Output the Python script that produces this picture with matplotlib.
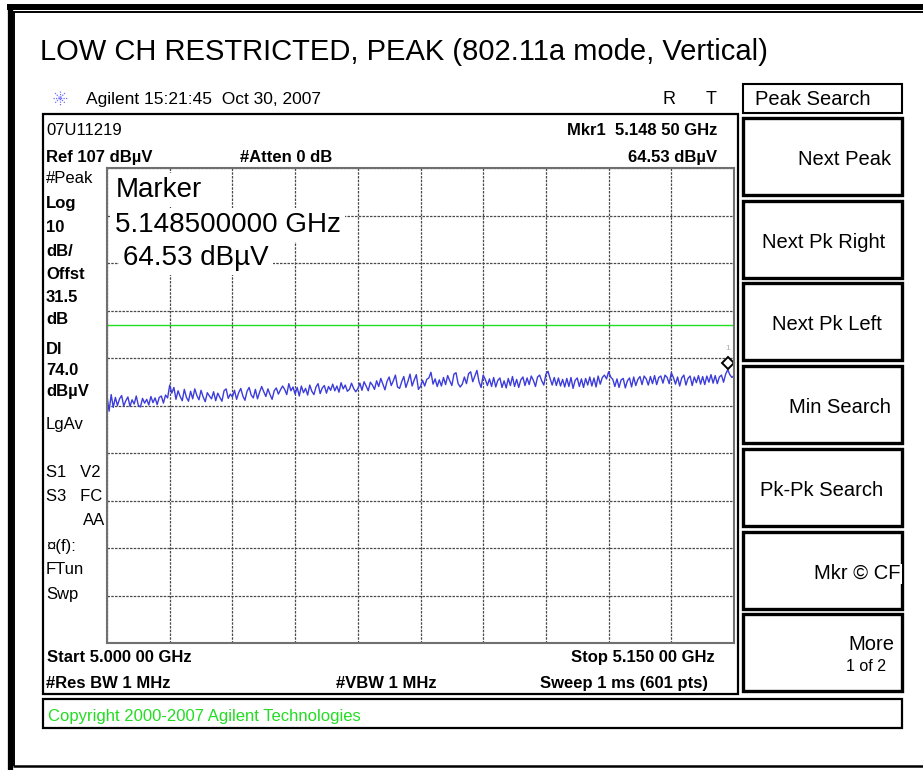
import numpy as np
import matplotlib
matplotlib.use('Agg')
import matplotlib.pyplot as plt
from matplotlib.patches import Rectangle
from matplotlib import transforms

plt.rcParams['font.family'] = ['Liberation Sans', 'DejaVu Sans']

# analyzer settings
f_start = 5000.0   # MHz
f_stop = 5150.0    # MHz
ref_level = 107.0  # dBuV
db_per_div = 10.0
display_line = 74.0
mkr_freq = 5148.5
mkr_level = 64.53

# trace, 0.5 MHz steps (dBuV)
level_dbuv = [
    59.0, 55.8, 59.3, 56.6, 58.7, 57.0, 58.4, 59.1, 56.9, 58.0,
    58.8, 56.8, 58.2, 57.3, 59.0, 57.0, 56.7, 58.5, 57.5, 58.3,
    57.1, 58.9, 57.6, 58.6, 57.2, 58.7, 59.0, 57.5, 59.2, 58.6,
    61.3, 59.6, 60.8, 58.3, 60.1, 58.9, 58.0, 60.4, 58.7, 57.9,
    60.0, 58.4, 60.5, 59.1, 58.2, 60.2, 58.8, 57.8, 59.7, 59.0,
    58.4, 59.9, 58.0, 59.6, 58.7, 57.9, 60.1, 60.5, 58.5, 59.4,
    58.8, 60.2, 58.3, 59.7, 60.6, 59.0, 58.1, 60.0, 60.8, 59.2,
    58.6, 60.4, 58.4, 59.8, 61.0, 59.9, 58.9, 60.5, 59.3, 58.3,
    60.1, 60.7, 59.4, 60.3, 61.1, 60.4, 59.3, 61.6, 60.1, 60.9,
    59.4, 60.8, 59.0, 61.1, 59.7, 60.6, 59.2, 61.3, 60.0, 59.3,
    60.9, 61.6, 59.5, 60.7, 61.2, 59.6, 61.0, 60.2, 61.5, 60.1,
    61.1, 59.8, 61.8, 60.5, 61.3, 60.0, 60.4, 61.7, 60.6, 59.9,
    60.5, 61.7, 60.2, 62.0, 61.1, 60.1, 61.9, 61.3, 60.4, 62.2,
    61.0, 62.7, 61.5, 60.3, 62.1, 63.0, 61.2, 62.2, 63.4, 60.9,
    60.6, 62.0, 63.1, 60.8, 62.1, 63.6, 61.1, 62.4, 63.5, 60.4,
    61.0, 62.3, 61.1, 62.5, 62.8, 64.0, 61.5, 62.6, 61.0, 62.4,
    61.1, 62.9, 61.4, 63.3, 62.2, 61.2, 63.6, 63.9, 61.6, 60.9,
    61.5, 63.0, 61.6, 63.7, 64.1, 62.0, 63.2, 64.4, 62.0, 60.8,
    63.4, 62.5, 61.2, 62.6, 61.0, 62.9, 60.9, 62.3, 62.8, 60.8,
    62.2, 60.7, 62.7, 61.2, 63.1, 61.0, 62.5, 60.8, 62.4, 63.0,
    61.2, 62.8, 61.4, 63.2, 62.3, 61.0, 63.0, 63.4, 62.2, 61.3,
    63.6, 64.2, 62.7, 61.3, 62.9, 61.2, 62.8, 61.1, 62.5, 60.9,
    62.7, 61.0, 62.9, 60.6, 62.3, 62.8, 61.0, 62.6, 60.8, 62.7,
    61.3, 63.0, 61.1, 62.8, 60.9, 63.2, 61.5, 62.9, 63.4, 62.6,
    64.1, 63.0, 62.5, 61.0, 62.6, 60.8, 62.4, 62.7, 60.7, 62.2,
    62.8, 60.9, 63.0, 61.2, 62.5, 63.1, 61.4, 63.2, 62.6, 61.3,
    63.1, 61.6, 63.3, 61.4, 62.9, 63.2, 61.7, 63.4, 62.9, 61.6,
    63.9, 62.9, 61.5, 63.0, 61.1, 62.8, 63.4, 61.3, 62.7, 63.2,
    61.2, 63.0, 61.8, 63.3, 61.5, 63.1, 61.4, 63.2, 61.9, 63.5,
    61.7, 63.3, 61.6, 63.0, 63.4, 61.9, 63.6, 64.53, 63.5, 62.9,
    63.3,
]
freq_mhz = np.linspace(f_start, f_stop, len(level_dbuv))

left_labels = [
    ('#Peak', 177, 'normal'), ('Log', 202, 'bold'), ('10', 226, 'bold'),
    ('dB/', 250, 'bold'), ('Offst', 273, 'bold'), ('31.5', 296, 'bold'),
    ('dB', 318, 'bold'), ('Dl', 348, 'bold'), ('74.0', 369, 'bold'),
    ('dBµV', 390, 'bold'), ('LgAv', 423, 'normal'), ('S1   V2', 471, 'normal'),
    ('S3   FC', 495, 'normal'), ('¤(f):', 545, 'normal'),
    ('FTun', 568, 'normal'), ('Swp', 593, 'normal'),
]
softkeys = ['Next Peak', 'Next Pk Right', 'Next Pk Left', 'Min Search',
            'Pk-Pk Search', 'Mkr © CF', 'More']
key_tops = [118, 201, 283, 366, 449, 532, 614]
key_text_x = [891, 885, 882, 891, 883, 901, 894]

W, H = 923, 770
fig = plt.figure(figsize=(W / 100, H / 100), dpi=100)
bg = fig.add_axes([0, 0, 1, 1])
bg.set_xlim(0, W)
bg.set_ylim(H, 0)
bg.axis('off')


def put(x, y, s, size, ax=None, **kw):
    # y is the middle of the capitals in pixels
    target = ax if ax is not None else bg
    kw.setdefault('va', 'baseline')
    return target.text(x, y + 0.716 * size * 100 / 72 / 2, s, fontsize=size,
                       transform=bg.transData, **kw)


# outer frame
bg.plot([9.5, 9.5], [4, 770], color='black', lw=3.8, solid_capstyle='butt')
bg.plot([7, W], [7, 7], color='black', lw=4.3, solid_capstyle='butt')
bg.plot([13.8, 13.8], [12.3, 766], color='black', lw=1.4, solid_capstyle='butt')
bg.plot([13, W], [12.3, 12.3], color='black', lw=1.4, solid_capstyle='butt')
bg.plot([13, W], [766, 766], color='black', lw=1.8, solid_capstyle='butt')

put(40, 50, 'LOW CH RESTRICTED, PEAK (802.11a mode, Vertical)', 21)

# agilent logo
for a in np.linspace(0, np.pi, 4, endpoint=False):
    dx, dy = 7 * np.cos(a), 7 * np.sin(a)
    bg.plot([60 - dx, 60 + dx], [98 - dy, 98 + dy], color='#7070ff', lw=0.9,
            linestyle=(0, (1, 1)))
put(86, 98, 'Agilent 15:21:45  Oct 30, 2007', 12.5)
put(663, 98, 'R', 13)
put(706, 98, 'T', 13)

# screen and copyright boxes
bg.add_patch(Rectangle((43, 114), 695, 580, fill=False, ec='black', lw=1.6))
bg.add_patch(Rectangle((43, 699), 859, 29, fill=False, ec='black', lw=1.6))
put(48, 715, 'Copyright 2000-2007 Agilent Technologies', 12, color='#22dd22')

# header / footer readouts
put(46, 129, '07U11219', 12)
put(46, 156, 'Ref 107 dBµV', 12, fontweight='bold')
put(240, 156, '#Atten 0 dB', 12, fontweight='bold')
put(717, 129, 'Mkr1  5.148 50 GHz', 12, fontweight='bold', ha='right')
put(717, 156, '64.53 dBµV', 12, fontweight='bold', ha='right')
for txt, y, wt in left_labels:
    put(46, y, txt, 12, fontweight=wt)
put(105, 519, 'AA', 12, ha='right')
put(47, 656, 'Start 5.000 00 GHz', 12, fontweight='bold')
put(715, 656, 'Stop 5.150 00 GHz', 12, fontweight='bold', ha='right')
put(46, 682, '#Res BW 1 MHz', 12, fontweight='bold')
put(336, 682, '#VBW 1 MHz', 12, fontweight='bold')
put(708, 682, 'Sweep 1 ms (601 pts)', 12, fontweight='bold', ha='right')

# softkeys
bg.add_patch(Rectangle((743, 84), 159, 29, fill=False, ec='black', lw=1.5))
put(755, 98, 'Peak Search', 14.5)
for top, label, tx in zip(key_tops, softkeys, key_text_x):
    bg.add_patch(Rectangle((743, top), 159, 77, fill=False, ec='black', lw=2.4))
    if label == 'More':
        put(tx, top + 29, label, 14.5, ha='right')
        put(886, top + 51, '1 of 2', 11.5, ha='right')
    else:
        put(tx, top + 40, label, 14.5, ha='right',
            bbox=dict(facecolor='white', edgecolor='none', pad=0.5))

# graticule
ax = fig.add_axes([107 / W, 1 - 643 / H, 627 / W, 475 / H])
ax.set_xlim(f_start, f_stop)
ax.set_ylim(ref_level - 10 * db_per_div, ref_level)
ax.set_xticks(np.linspace(f_start, f_stop, 11))
ax.set_yticks(np.arange(ref_level - 10 * db_per_div, ref_level + 1, db_per_div))
ax.tick_params(length=0, labelbottom=False, labelleft=False)
ax.grid(True, color='#4a4a4a', linestyle=(0, (2, 1)), linewidth=0.9)
for sp in ax.spines.values():
    sp.set_color('#707070')
    sp.set_linewidth(1.5)

ax.axhline(display_line, color='#22dd22', lw=1.0)
ax.plot(freq_mhz, level_dbuv, color='#3c3cdc', lw=1.0)
up = transforms.offset_copy(ax.transData, fig=fig, x=0, y=7, units='dots')
ax.plot([mkr_freq], [mkr_level], marker='D', ms=6, mfc='white', mec='black',
        mew=1.4, transform=up, clip_on=False)
lab = transforms.offset_copy(ax.transData, fig=fig, x=0, y=21, units='dots')
ax.text(mkr_freq, mkr_level, '1', fontsize=6, color='#aaaaaa', ha='center',
        va='center', transform=lab)

# marker readout on the screen
box = dict(facecolor='white', edgecolor='none', boxstyle='square,pad=0.15')
put(116, 187, 'Marker', 20, ax=ax, bbox=box)
put(115, 222, '5.148500000 GHz', 20, ax=ax, bbox=box)
put(123, 255, '64.53 dBµV', 20, ax=ax, bbox=box)

fig.savefig('out.png', dpi=100)
